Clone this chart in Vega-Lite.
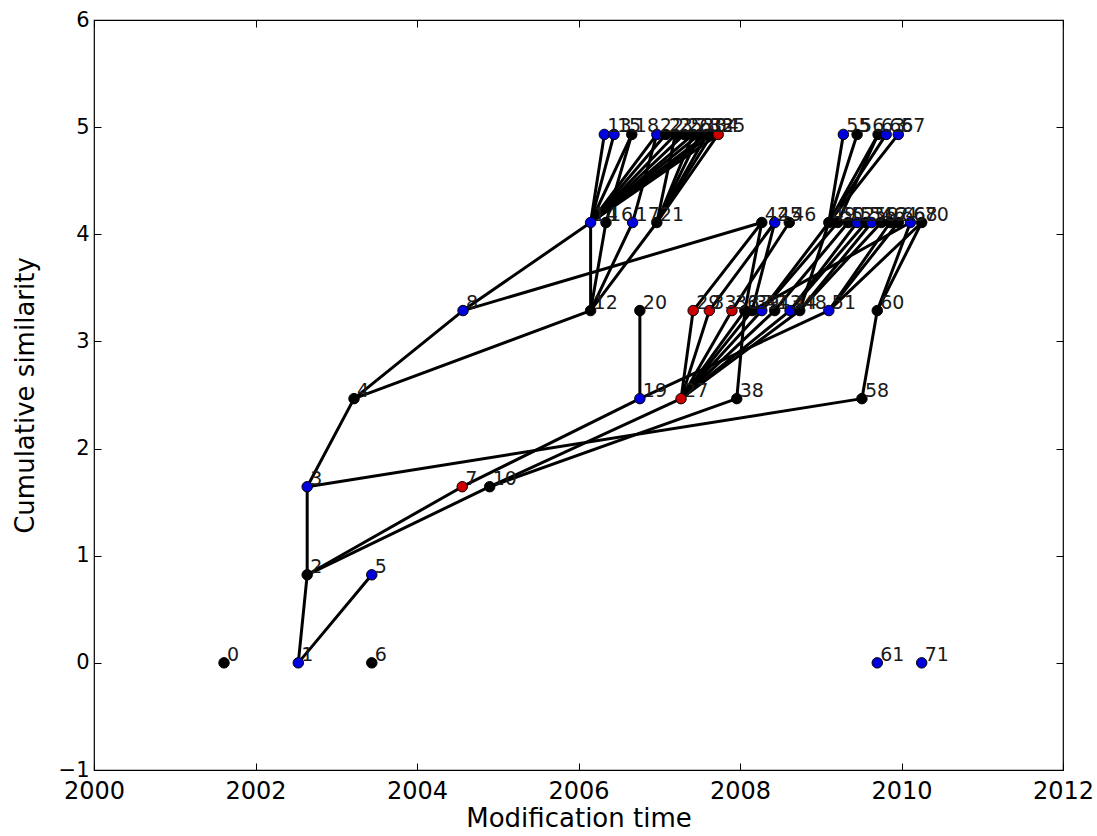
{
  "$schema": "https://vega.github.io/schema/vega-lite/v6.json",
  "width": 969,
  "height": 750,
  "autosize": {"type": "none"},
  "padding": {"left": 94, "top": 20, "right": 34, "bottom": 66},
  "background": "white",
  "config": {
    "font": "DejaVu Sans",
    "view": {"stroke": "#000", "strokeWidth": 1.2},
    "axis": {"grid": false, "domain": false, "labelFlush": false, "labelFont": "DejaVu Sans", "titleFont": "DejaVu Sans", "labelColor": "#000", "titleColor": "#000", "tickColor": "#000", "titleFontSize": 26, "titleFontWeight": "normal", "tickSize": -7, "tickWidth": 1}
  },
  "datasets": {
    "nodes": [
      {"id": 0, "t": 2001.61, "v": 0, "g": "k"},
      {"id": 1, "t": 2002.53, "v": 0, "g": "b"},
      {"id": 2, "t": 2002.64, "v": 0.822, "g": "k"},
      {"id": 3, "t": 2002.64, "v": 1.644, "g": "b"},
      {"id": 4, "t": 2003.22, "v": 2.466, "g": "k"},
      {"id": 5, "t": 2003.44, "v": 0.822, "g": "b"},
      {"id": 6, "t": 2003.44, "v": 0, "g": "k"},
      {"id": 7, "t": 2004.56, "v": 1.644, "g": "r"},
      {"id": 8, "t": 2004.57, "v": 3.288, "g": "b"},
      {"id": 10, "t": 2004.90, "v": 1.644, "g": "k"},
      {"id": 12, "t": 2006.15, "v": 3.288, "g": "k"},
      {"id": 14, "t": 2006.15, "v": 4.11, "g": "b"},
      {"id": 16, "t": 2006.34, "v": 4.11, "g": "k"},
      {"id": 17, "t": 2006.67, "v": 4.11, "g": "b"},
      {"id": 21, "t": 2006.97, "v": 4.11, "g": "k"},
      {"id": 13, "t": 2006.32, "v": 4.932, "g": "b"},
      {"id": 15, "t": 2006.44, "v": 4.932, "g": "b"},
      {"id": 18, "t": 2006.66, "v": 4.932, "g": "k"},
      {"id": 22, "t": 2006.97, "v": 4.932, "g": "b"},
      {"id": 23, "t": 2007.08, "v": 4.932, "g": "k"},
      {"id": 25, "t": 2007.20, "v": 4.932, "g": "k"},
      {"id": 26, "t": 2007.31, "v": 4.932, "g": "k"},
      {"id": 28, "t": 2007.42, "v": 4.932, "g": "k"},
      {"id": 30, "t": 2007.50, "v": 4.932, "g": "k"},
      {"id": 32, "t": 2007.59, "v": 4.932, "g": "k"},
      {"id": 34, "t": 2007.65, "v": 4.932, "g": "k"},
      {"id": 35, "t": 2007.73, "v": 4.932, "g": "r"},
      {"id": 19, "t": 2006.76, "v": 2.466, "g": "b"},
      {"id": 20, "t": 2006.76, "v": 3.288, "g": "k"},
      {"id": 27, "t": 2007.27, "v": 2.466, "g": "r"},
      {"id": 29, "t": 2007.42, "v": 3.288, "g": "r"},
      {"id": 33, "t": 2007.62, "v": 3.288, "g": "r"},
      {"id": 36, "t": 2007.90, "v": 3.288, "g": "r"},
      {"id": 37, "t": 2008.06, "v": 3.288, "g": "k"},
      {"id": 39, "t": 2008.15, "v": 3.288, "g": "k"},
      {"id": 41, "t": 2008.27, "v": 3.288, "g": "b"},
      {"id": 43, "t": 2008.43, "v": 3.288, "g": "k"},
      {"id": 44, "t": 2008.62, "v": 3.288, "g": "b"},
      {"id": 48, "t": 2008.74, "v": 3.288, "g": "k"},
      {"id": 51, "t": 2009.10, "v": 3.288, "g": "b"},
      {"id": 38, "t": 2007.96, "v": 2.466, "g": "k"},
      {"id": 42, "t": 2008.27, "v": 4.11, "g": "k"},
      {"id": 45, "t": 2008.43, "v": 4.11, "g": "b"},
      {"id": 46, "t": 2008.61, "v": 4.11, "g": "k"},
      {"id": 49, "t": 2009.10, "v": 4.11, "g": "k"},
      {"id": 50, "t": 2009.21, "v": 4.11, "g": "k"},
      {"id": 52, "t": 2009.34, "v": 4.11, "g": "k"},
      {"id": 53, "t": 2009.45, "v": 4.11, "g": "b"},
      {"id": 54, "t": 2009.56, "v": 4.11, "g": "k"},
      {"id": 59, "t": 2009.63, "v": 4.11, "g": "b"},
      {"id": 62, "t": 2009.75, "v": 4.11, "g": "k"},
      {"id": 64, "t": 2009.86, "v": 4.11, "g": "k"},
      {"id": 66, "t": 2009.96, "v": 4.11, "g": "k"},
      {"id": 68, "t": 2010.11, "v": 4.11, "g": "b"},
      {"id": 70, "t": 2010.25, "v": 4.11, "g": "k"},
      {"id": 55, "t": 2009.28, "v": 4.932, "g": "b"},
      {"id": 56, "t": 2009.45, "v": 4.932, "g": "k"},
      {"id": 63, "t": 2009.71, "v": 4.932, "g": "k"},
      {"id": 65, "t": 2009.81, "v": 4.932, "g": "b"},
      {"id": 67, "t": 2009.96, "v": 4.932, "g": "b"},
      {"id": 58, "t": 2009.51, "v": 2.466, "g": "k"},
      {"id": 60, "t": 2009.70, "v": 3.288, "g": "k"},
      {"id": 61, "t": 2009.70, "v": 0, "g": "b"},
      {"id": 71, "t": 2010.25, "v": 0, "g": "b"}
    ],
    "edges": [
      {"s": 1, "e": 2}, {"s": 1, "e": 5}, {"s": 2, "e": 3}, {"s": 3, "e": 4}, {"s": 3, "e": 58},
      {"s": 2, "e": 7}, {"s": 2, "e": 10}, {"s": 7, "e": 19}, {"s": 10, "e": 27}, {"s": 10, "e": 38},
      {"s": 4, "e": 8}, {"s": 4, "e": 12}, {"s": 19, "e": 20}, {"s": 19, "e": 51}, {"s": 38, "e": 37}, {"s": 58, "e": 60},
      {"s": 27, "e": 29}, {"s": 27, "e": 33}, {"s": 27, "e": 36}, {"s": 27, "e": 37}, {"s": 27, "e": 39},
      {"s": 27, "e": 41}, {"s": 27, "e": 43}, {"s": 27, "e": 44}, {"s": 27, "e": 48},
      {"s": 8, "e": 14}, {"s": 8, "e": 42}, {"s": 12, "e": 14}, {"s": 12, "e": 16}, {"s": 12, "e": 17}, {"s": 12, "e": 21},
      {"s": 29, "e": 42}, {"s": 33, "e": 45}, {"s": 36, "e": 46}, {"s": 37, "e": 42}, {"s": 39, "e": 45},
      {"s": 41, "e": 49}, {"s": 41, "e": 50}, {"s": 43, "e": 52}, {"s": 44, "e": 53}, {"s": 44, "e": 54},
      {"s": 48, "e": 59}, {"s": 48, "e": 62}, {"s": 51, "e": 64}, {"s": 51, "e": 66}, {"s": 39, "e": 68},
      {"s": 60, "e": 68}, {"s": 60, "e": 70}, {"s": 48, "e": 49}, {"s": 51, "e": 70},
      {"s": 14, "e": 13}, {"s": 14, "e": 15}, {"s": 14, "e": 18}, {"s": 14, "e": 22}, {"s": 14, "e": 23},
      {"s": 14, "e": 25}, {"s": 14, "e": 26}, {"s": 14, "e": 28}, {"s": 14, "e": 30}, {"s": 14, "e": 32},
      {"s": 14, "e": 34}, {"s": 14, "e": 35},
      {"s": 16, "e": 18}, {"s": 17, "e": 22}, {"s": 21, "e": 25}, {"s": 21, "e": 28}, {"s": 21, "e": 30},
      {"s": 21, "e": 32}, {"s": 21, "e": 34}, {"s": 21, "e": 35},
      {"s": 49, "e": 55}, {"s": 49, "e": 56}, {"s": 49, "e": 63}, {"s": 49, "e": 65}, {"s": 49, "e": 67}, {"s": 50, "e": 63}
    ]
  },
  "layer": [
    {
      "data": {"name": "edges"},
      "transform": [
        {"lookup": "s", "from": {"data": {"name": "nodes"}, "key": "id", "fields": ["t", "v"]}, "as": ["t1", "v1"]},
        {"lookup": "e", "from": {"data": {"name": "nodes"}, "key": "id", "fields": ["t", "v"]}, "as": ["t2", "v2"]}
      ],
      "mark": {"type": "rule", "color": "#000", "strokeWidth": 3, "strokeCap": "round"},
      "encoding": {
        "x": {"field": "t1", "type": "quantitative", "scale": {"domain": [2000, 2012], "nice": false, "zero": false},
              "axis": {"values": [2000, 2002, 2004, 2006, 2008, 2010, 2012], "format": "d", "title": "Modification time", "labelFontSize": 24, "labelPadding": 16, "titlePadding": 2}},
        "y": {"field": "v1", "type": "quantitative", "scale": {"domain": [-1, 6], "nice": false, "zero": false},
              "axis": {"values": [-1, 0, 1, 2, 3, 4, 5, 6], "title": "Cumulative similarity", "labelFontSize": 21, "labelPadding": 12, "titlePadding": 20}},
        "x2": {"field": "t2"},
        "y2": {"field": "v2"}
      }
    },
    {
      "data": {"name": "nodes"},
      "mark": {"type": "circle", "size": 110, "stroke": "#000", "strokeWidth": 1, "opacity": 1},
      "encoding": {
        "x": {"field": "t", "type": "quantitative", "axis": {"orient": "top", "values": [2000, 2002, 2004, 2006, 2008, 2010, 2012], "labels": false, "title": null}},
        "y": {"field": "v", "type": "quantitative", "axis": {"orient": "right", "values": [-1, 0, 1, 2, 3, 4, 5, 6], "labels": false, "title": null}},
        "fill": {"field": "g", "type": "nominal", "scale": {"domain": ["k", "b", "r"], "range": ["#000000", "#0000dd", "#cc0000"]}, "legend": null}
      }
    },
    {
      "data": {"name": "nodes"},
      "mark": {"type": "text", "align": "left", "baseline": "alphabetic", "dx": 3, "dy": -2, "fontSize": 19, "font": "DejaVu Sans", "color": "#1a1a1a"},
      "encoding": {
        "x": {"field": "t", "type": "quantitative", "axis": null},
        "y": {"field": "v", "type": "quantitative", "axis": null},
        "text": {"field": "id", "type": "nominal"}
      }
    }
  ],
  "resolve": {"axis": {"x": "independent", "y": "independent"}}
}
